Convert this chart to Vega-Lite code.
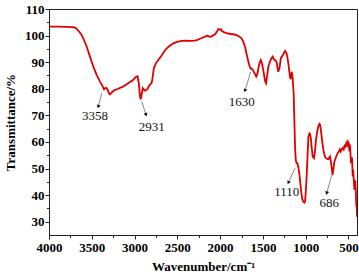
{
  "$schema": "https://vega.github.io/schema/vega-lite/v6.json",
  "width": 308,
  "height": 226,
  "autosize": {"type": "none"},
  "padding": {"left": 49, "top": 9, "right": 2, "bottom": 42},
  "background": "white",
  "config": {
    "view": {"stroke": "#222", "strokeWidth": 1},
    "axis": {
      "labelFont": "Liberation Serif",
      "labelFontWeight": "bold",
      "labelFontSize": 13,
      "labelColor": "#000",
      "titleFont": "Liberation Serif",
      "titleFontWeight": "bold",
      "titleFontSize": 13,
      "titleColor": "#000",
      "domainColor": "#222",
      "tickColor": "#222",
      "labelOverlap": false,
      "grid": false
    }
  },
  "resolve": {"axis": {"x": "independent", "y": "independent"}},
  "datasets": {
    "spectrum": [
      {"wn": 4000, "t": 103.4}, {"wn": 3900, "t": 103.4}, {"wn": 3800, "t": 103.3}, {"wn": 3720, "t": 103.2},
      {"wn": 3690, "t": 102.9}, {"wn": 3660, "t": 102.0}, {"wn": 3618, "t": 100.2}, {"wn": 3580, "t": 97.5},
      {"wn": 3559, "t": 95.8}, {"wn": 3521, "t": 92.1}, {"wn": 3482, "t": 88.3}, {"wn": 3443, "t": 85.2},
      {"wn": 3404, "t": 82.7}, {"wn": 3377, "t": 81.2}, {"wn": 3358, "t": 79.8}, {"wn": 3340, "t": 80.3},
      {"wn": 3330, "t": 80.4}, {"wn": 3314, "t": 79.6}, {"wn": 3295, "t": 78.0}, {"wn": 3287, "t": 77.9},
      {"wn": 3270, "t": 78.5}, {"wn": 3240, "t": 79.4}, {"wn": 3200, "t": 79.9}, {"wn": 3135, "t": 80.8},
      {"wn": 3080, "t": 82.0}, {"wn": 3018, "t": 83.3}, {"wn": 2983, "t": 84.5}, {"wn": 2965, "t": 84.7},
      {"wn": 2950, "t": 82.0}, {"wn": 2938, "t": 77.5}, {"wn": 2928, "t": 76.0}, {"wn": 2918, "t": 77.5},
      {"wn": 2905, "t": 80.2}, {"wn": 2890, "t": 79.6}, {"wn": 2878, "t": 79.3}, {"wn": 2860, "t": 79.6},
      {"wn": 2851, "t": 79.8}, {"wn": 2831, "t": 81.1}, {"wn": 2800, "t": 82.2}, {"wn": 2790, "t": 84.0},
      {"wn": 2775, "t": 87.7}, {"wn": 2750, "t": 89.6}, {"wn": 2722, "t": 90.8}, {"wn": 2690, "t": 92.2},
      {"wn": 2644, "t": 94.5}, {"wn": 2600, "t": 95.9}, {"wn": 2547, "t": 97.1}, {"wn": 2500, "t": 97.6},
      {"wn": 2449, "t": 98.0}, {"wn": 2400, "t": 98.1}, {"wn": 2352, "t": 98.0}, {"wn": 2300, "t": 98.1},
      {"wn": 2273, "t": 98.3}, {"wn": 2220, "t": 99.0}, {"wn": 2176, "t": 99.6}, {"wn": 2145, "t": 100.0},
      {"wn": 2130, "t": 99.6}, {"wn": 2118, "t": 99.5}, {"wn": 2090, "t": 99.9}, {"wn": 2059, "t": 100.5},
      {"wn": 2040, "t": 101.3}, {"wn": 2021, "t": 102.5}, {"wn": 2010, "t": 102.3}, {"wn": 2001, "t": 102.2},
      {"wn": 1990, "t": 102.4}, {"wn": 1981, "t": 101.8}, {"wn": 1950, "t": 101.2}, {"wn": 1923, "t": 100.9},
      {"wn": 1880, "t": 100.6}, {"wn": 1845, "t": 100.5}, {"wn": 1800, "t": 100.1}, {"wn": 1775, "t": 99.6},
      {"wn": 1750, "t": 99.0}, {"wn": 1730, "t": 97.8}, {"wn": 1709, "t": 95.8}, {"wn": 1690, "t": 93.0},
      {"wn": 1670, "t": 90.2}, {"wn": 1650, "t": 87.9}, {"wn": 1640, "t": 87.5}, {"wn": 1630, "t": 87.6},
      {"wn": 1619, "t": 87.1}, {"wn": 1605, "t": 86.3}, {"wn": 1592, "t": 85.6}, {"wn": 1578, "t": 84.6},
      {"wn": 1565, "t": 85.5}, {"wn": 1545, "t": 89.0}, {"wn": 1525, "t": 90.8}, {"wn": 1510, "t": 89.5},
      {"wn": 1490, "t": 86.0}, {"wn": 1475, "t": 83.0}, {"wn": 1463, "t": 82.1}, {"wn": 1450, "t": 85.0},
      {"wn": 1435, "t": 88.5}, {"wn": 1425, "t": 89.5}, {"wn": 1400, "t": 91.5}, {"wn": 1385, "t": 92.1},
      {"wn": 1370, "t": 91.0}, {"wn": 1358, "t": 90.8}, {"wn": 1340, "t": 90.0}, {"wn": 1320, "t": 86.4},
      {"wn": 1305, "t": 88.0}, {"wn": 1290, "t": 91.5}, {"wn": 1270, "t": 92.5}, {"wn": 1241, "t": 94.2},
      {"wn": 1225, "t": 93.5}, {"wn": 1214, "t": 92.0}, {"wn": 1200, "t": 89.0}, {"wn": 1191, "t": 86.4},
      {"wn": 1183, "t": 84.5}, {"wn": 1175, "t": 83.6}, {"wn": 1163, "t": 86.4}, {"wn": 1152, "t": 84.0},
      {"wn": 1140, "t": 78.0}, {"wn": 1132, "t": 68.0}, {"wn": 1124, "t": 58.0}, {"wn": 1115, "t": 53.0},
      {"wn": 1105, "t": 52.0}, {"wn": 1097, "t": 52.0}, {"wn": 1085, "t": 50.5}, {"wn": 1070, "t": 47.0},
      {"wn": 1055, "t": 42.0}, {"wn": 1040, "t": 38.5}, {"wn": 1027, "t": 37.5}, {"wn": 1015, "t": 37.2},
      {"wn": 1007, "t": 37.6}, {"wn": 997, "t": 42.0}, {"wn": 987, "t": 48.2}, {"wn": 975, "t": 57.0},
      {"wn": 968, "t": 62.0}, {"wn": 955, "t": 63.2}, {"wn": 949, "t": 63.0}, {"wn": 940, "t": 61.5},
      {"wn": 930, "t": 58.0}, {"wn": 918, "t": 54.5}, {"wn": 902, "t": 53.9}, {"wn": 890, "t": 57.0},
      {"wn": 879, "t": 60.8}, {"wn": 865, "t": 64.0}, {"wn": 852, "t": 65.8}, {"wn": 840, "t": 66.8},
      {"wn": 832, "t": 66.5}, {"wn": 822, "t": 64.5}, {"wn": 810, "t": 61.0}, {"wn": 793, "t": 57.0},
      {"wn": 775, "t": 54.5}, {"wn": 762, "t": 53.9}, {"wn": 748, "t": 53.6}, {"wn": 735, "t": 53.5},
      {"wn": 722, "t": 54.2}, {"wn": 715, "t": 54.5}, {"wn": 705, "t": 52.5}, {"wn": 695, "t": 50.1},
      {"wn": 686, "t": 47.6}, {"wn": 675, "t": 50.0}, {"wn": 665, "t": 52.5}, {"wn": 657, "t": 53.2},
      {"wn": 640, "t": 54.8}, {"wn": 625, "t": 55.8}, {"wn": 610, "t": 56.6}, {"wn": 600, "t": 57.2},
      {"wn": 590, "t": 56.4}, {"wn": 578, "t": 57.3}, {"wn": 565, "t": 57.8}, {"wn": 555, "t": 57.2},
      {"wn": 545, "t": 58.6}, {"wn": 535, "t": 58.3}, {"wn": 525, "t": 59.6}, {"wn": 515, "t": 58.7},
      {"wn": 505, "t": 60.1}, {"wn": 495, "t": 59.3}, {"wn": 489, "t": 56.4}, {"wn": 482, "t": 59.0},
      {"wn": 475, "t": 55.0}, {"wn": 470, "t": 52.0}, {"wn": 465, "t": 54.0}, {"wn": 458, "t": 53.9},
      {"wn": 450, "t": 47.0}, {"wn": 445, "t": 49.5}, {"wn": 438, "t": 46.0}, {"wn": 431, "t": 42.0},
      {"wn": 425, "t": 44.0}, {"wn": 420, "t": 45.6}, {"wn": 412, "t": 40.0}, {"wn": 408, "t": 36.0},
      {"wn": 403, "t": 35.7}, {"wn": 400, "t": 31.9}
    ],
    "notes": [
      {"label": "3358", "lx": 3462, "ly": 69.8, "ax1": 3384, "ay1": 78.3, "ax2": 3424, "ay2": 73.3},
      {"label": "2931", "lx": 2800, "ly": 65.8, "ax1": 2916, "ay1": 75.2, "ax2": 2866, "ay2": 70.2},
      {"label": "1630", "lx": 1747, "ly": 75.2, "ax1": 1642, "ay1": 86.4, "ax2": 1709, "ay2": 79.3},
      {"label": "1110", "lx": 1221, "ly": 41.3, "ax1": 1124, "ay1": 50.1, "ax2": 1202, "ay2": 44.7},
      {"label": "686", "lx": 723, "ly": 37.0, "ax1": 695, "ay1": 47.6, "ax2": 754, "ay2": 40.7}
    ]
  },
  "layer": [
    {
      "data": {"name": "spectrum"},
      "mark": {"type": "line", "color": "#E00000", "strokeWidth": 1.8, "clip": true},
      "encoding": {
        "x": {
          "field": "wn", "type": "quantitative",
          "scale": {"domain": [400, 4000], "reverse": true, "nice": false, "zero": false},
          "axis": {
            "orient": "bottom",
            "title": "Wavenumber/cm⁻¹",
            "values": [4000, 3500, 3000, 2500, 2000, 1500, 1000, 500],
            "format": "d",
            "tickSize": 4,
            "labelPadding": 2,
            "titlePadding": 6,
            "labelFlush": false
          }
        },
        "y": {
          "field": "t", "type": "quantitative",
          "scale": {"domain": [25, 110], "nice": false, "zero": false},
          "axis": {
            "orient": "left",
            "title": "Transmittance/%",
            "values": [30, 40, 50, 60, 70, 80, 90, 100, 110],
            "tickSize": 4,
            "labelPadding": 1,
            "titlePadding": 7,
            "labelFlush": false
          }
        }
      }
    },
    {
      "data": {"name": "notes"},
      "mark": {"type": "point", "opacity": 0},
      "encoding": {
        "x": {
          "field": "ax1", "type": "quantitative",
          "scale": {"domain": [400, 4000], "reverse": true, "nice": false, "zero": false},
          "axis": {
            "orient": "bottom",
            "title": null,
            "values": [3750, 3250, 2750, 2250, 1750, 1250, 750],
            "labels": false,
            "domain": false,
            "tickSize": 2.5
          }
        },
        "y": {
          "field": "ay1", "type": "quantitative",
          "scale": {"domain": [25, 110], "nice": false, "zero": false},
          "axis": {
            "orient": "left",
            "title": null,
            "values": [35, 45, 55, 65, 75, 85, 95, 105],
            "labels": false,
            "domain": false,
            "tickSize": 2.5
          }
        }
      }
    },
    {
      "data": {"name": "notes"},
      "mark": {"type": "rule", "color": "#666", "strokeWidth": 0.8},
      "encoding": {
        "x": {"field": "ax1", "type": "quantitative", "axis": null},
        "y": {"field": "ay1", "type": "quantitative", "axis": null},
        "x2": {"field": "ax2"},
        "y2": {"field": "ay2"}
      }
    },
    {
      "data": {"name": "notes"},
      "transform": [
        {"calculate": "atan2((datum.ax1 - datum.ax2) * 308 / 3600, -(datum.ay1 - datum.ay2) * 226 / 85) * 180 / PI + 360", "as": "ang"}
      ],
      "mark": {"type": "point", "shape": "triangle-up", "filled": true, "color": "#111", "size": 16, "opacity": 1},
      "encoding": {
        "x": {"field": "ax2", "type": "quantitative", "axis": null},
        "y": {"field": "ay2", "type": "quantitative", "axis": null},
        "angle": {"field": "ang", "type": "quantitative", "scale": null}
      }
    },
    {
      "data": {"name": "notes"},
      "mark": {"type": "text", "font": "Liberation Serif", "fontSize": 13, "color": "#111", "align": "center", "baseline": "middle"},
      "encoding": {
        "x": {"field": "lx", "type": "quantitative", "axis": null},
        "y": {"field": "ly", "type": "quantitative", "axis": null},
        "text": {"field": "label"}
      }
    }
  ]
}
